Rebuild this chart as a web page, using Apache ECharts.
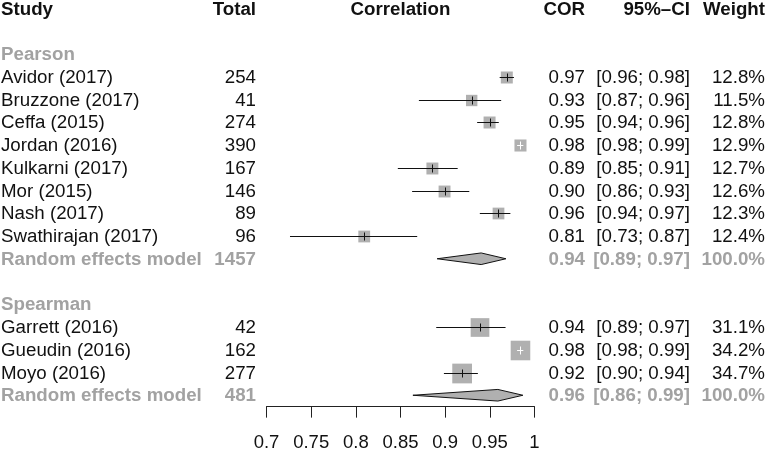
<!DOCTYPE html>
<html>
<head>
<meta charset="utf-8">
<script src="https://cdn.jsdelivr.net/npm/echarts@6/dist/echarts.min.js"></script>
<style>
  html, body { margin: 0; padding: 0; background: #fff; }
  #chart { width: 766px; height: 449px; }
</style>
</head>
<body>
<div id="chart"></div>
<script>
// study level data
const studies = ['Avidor (2017)', 'Bruzzone (2017)', 'Ceffa (2015)', 'Jordan (2016)', 'Kulkarni (2017)',
  'Mor (2015)', 'Nash (2017)', 'Swathirajan (2017)', 'Garrett (2016)', 'Gueudin (2016)', 'Moyo (2016)'];
const studyRows = [3, 4, 5, 6, 7, 8, 9, 10, 14, 15, 16];
const totals = [254, 41, 274, 390, 167, 146, 89, 96, 42, 162, 277];
const cor = [0.969, 0.9297, 0.9497, 0.9843, 0.8857, 0.8993, 0.9597, 0.8094, 0.939, 0.9843, 0.919];
const ciLower = [0.961, 0.8706, 0.9358, 0.9805, 0.847, 0.863, 0.9388, 0.7263, 0.890, 0.9805, 0.8986];
const ciUpper = [0.977, 0.9627, 0.960, 0.9875, 0.914, 0.927, 0.973, 0.8687, 0.9676, 0.9875, 0.9366];
const weights = [12.8, 11.5, 12.8, 12.9, 12.7, 12.6, 12.3, 12.4, 31.1, 34.2, 34.7];

// subgroups and random effects models
const groups = ['Pearson', 'Spearman'];
const groupRows = [2, 13];
const modelRows = [11, 17];
const modelTotals = [1457, 481];
const modelCor = [0.9403, 0.959];
const modelLower = [0.891, 0.8639];
const modelUpper = [0.968, 0.987];
const modelWeights = [100, 100];

const headers = ['Study', 'Total', 'Correlation', 'COR', '95%–CI', 'Weight'];
const axisMin = 0.7, axisMax = 1, axisStep = 0.05;

const FONT = '"Liberation Sans", Arial, Helvetica, sans-serif';
const kinds = {
  head: { color: '#111', weight: 'bold' },
  body: { color: '#111', weight: 'normal' },
  grey: { color: '#a2a2a2', weight: 'bold' }
};

function textSeries(items, x, align) {
  return {
    type: 'custom',
    silent: true,
    encode: { x: 0, y: 1 },
    data: items.map(it => [0.85, it.row]),
    renderItem: (params, api) => {
      const it = items[params.dataIndex];
      const y = api.coord([0.85, api.value(1)])[1] + 1.2;
      const k = kinds[it.kind];
      return {
        type: 'text',
        x: x,
        y: y,
        scaleX: 1.04,
        style: {
          text: it.text,
          align: align,
          verticalAlign: 'middle',
          fontFamily: FONT,
          fontSize: 18,
          fontWeight: k.weight,
          fill: k.color
        }
      };
    }
  };
}

const studyCol = [{ row: 0, text: headers[0], kind: 'head' }];
const totalCol = [{ row: 0, text: headers[1], kind: 'head' }];
const corCol = [{ row: 0, text: headers[3], kind: 'head' }];
const ciCol = [{ row: 0, text: headers[4], kind: 'head' }];
const weightCol = [{ row: 0, text: headers[5], kind: 'head' }];
groups.forEach((g, i) => studyCol.push({ row: groupRows[i], text: g, kind: 'grey' }));
studies.forEach((s, i) => {
  const r = studyRows[i];
  studyCol.push({ row: r, text: s, kind: 'body' });
  totalCol.push({ row: r, text: String(totals[i]), kind: 'body' });
  corCol.push({ row: r, text: cor[i].toFixed(2), kind: 'body' });
  ciCol.push({ row: r, text: '[' + ciLower[i].toFixed(2) + '; ' + ciUpper[i].toFixed(2) + ']', kind: 'body' });
  weightCol.push({ row: r, text: weights[i].toFixed(1) + '%', kind: 'body' });
});
modelRows.forEach((r, i) => {
  studyCol.push({ row: r, text: 'Random effects model', kind: 'grey' });
  totalCol.push({ row: r, text: String(modelTotals[i]), kind: 'grey' });
  corCol.push({ row: r, text: modelCor[i].toFixed(2), kind: 'grey' });
  ciCol.push({ row: r, text: '[' + modelLower[i].toFixed(2) + '; ' + modelUpper[i].toFixed(2) + ']', kind: 'grey' });
  weightCol.push({ row: r, text: modelWeights[i].toFixed(1) + '%', kind: 'grey' });
});

const chart = echarts.init(document.getElementById('chart'));

const option = {
  animation: false,
  backgroundColor: '#fff',
  grid: { left: 266.5, right: 231.5, top: -2.875, bottom: 42.375, outerBoundsMode: 'none' },
  xAxis: {
    type: 'value',
    min: axisMin,
    max: axisMax,
    interval: axisStep,
    axisLine: { show: true, onZero: false, lineStyle: { color: '#222', width: 1 } },
    axisTick: { show: true, length: 11, lineStyle: { color: '#222', width: 1 } },
    axisLabel: { color: '#111', fontSize: 18.5, fontFamily: FONT, margin: 27 },
    splitLine: { show: false }
  },
  yAxis: {
    type: 'value',
    min: -0.5,
    max: 17.5,
    inverse: true,
    show: false
  },
  series: [
    // squares, confidence intervals and point ticks
    {
      type: 'custom',
      silent: true,
      encode: { x: [0, 1, 2], y: 3 },
      data: studies.map((s, i) => [ciLower[i], cor[i], ciUpper[i], studyRows[i], weights[i]]),
      renderItem: (params, api) => {
        const row = api.value(3);
        const lo = api.coord([api.value(0), row]);
        const est = api.coord([api.value(1), row]);
        const hi = api.coord([api.value(2), row]);
        const size = 3.35 * Math.sqrt(api.value(4));
        const cx = est[0], cy = Math.round(est[1]) + 0.5;
        const inside = lo[0] >= cx - size / 2 && hi[0] <= cx + size / 2;
        const stroke = inside ? '#fff' : '#111';
        return {
          type: 'group',
          children: [
            { type: 'rect', shape: { x: cx - size / 2, y: cy - size / 2, width: size, height: size }, style: { fill: '#b0b0b0' } },
            { type: 'line', shape: { x1: lo[0], y1: cy, x2: hi[0], y2: cy }, style: { stroke: stroke, lineWidth: 1 } },
            { type: 'line', shape: { x1: Math.round(cx) + 0.5, y1: cy - 4, x2: Math.round(cx) + 0.5, y2: cy + 4 }, style: { stroke: stroke, lineWidth: 1 } }
          ]
        };
      }
    },
    // random effects diamonds
    {
      type: 'custom',
      silent: true,
      encode: { x: [0, 1, 2], y: 3 },
      data: modelRows.map((r, i) => [modelLower[i], modelCor[i], modelUpper[i], r]),
      renderItem: (params, api) => {
        const row = api.value(3);
        const lo = api.coord([api.value(0), row]);
        const est = api.coord([api.value(1), row]);
        const hi = api.coord([api.value(2), row]);
        const cy = est[1], h = 5.8;
        return {
          type: 'polygon',
          shape: { points: [[lo[0], cy], [est[0], cy - h], [hi[0], cy], [est[0], cy + h]] },
          style: { fill: '#b0b0b0', stroke: '#111', lineWidth: 1 }
        };
      }
    },
    textSeries(studyCol, 1, 'left'),
    textSeries(totalCol, 256, 'right'),
    textSeries([{ row: 0, text: headers[2], kind: 'head' }], 400.5, 'center'),
    textSeries(corCol, 585, 'right'),
    textSeries(ciCol, 690, 'right'),
    textSeries(weightCol, 765, 'right')
  ]
};

chart.setOption(option);
</script>
</body>
</html>
